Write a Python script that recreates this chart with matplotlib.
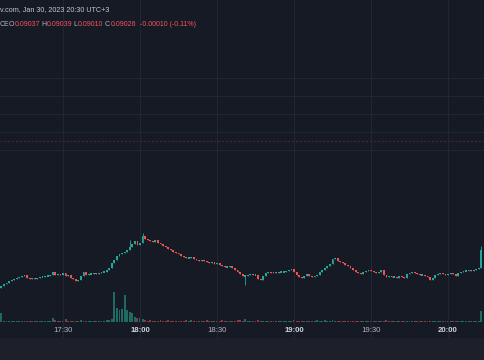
import numpy as np
import matplotlib
matplotlib.use("Agg")
import matplotlib.pyplot as plt
from matplotlib.patches import Rectangle
import matplotlib.transforms as mtransforms
from datetime import datetime, timedelta

# ---------------- data ----------------
start_time = "17:06"
first_open = 0.08994
closes = [
    0.08996, 0.08998, 0.08999, 0.09001, 0.09002, 0.09003, 0.09004, 0.09005,
    0.09006, 0.09007, 0.09004, 0.09003, 0.09004, 0.09003, 0.09004, 0.09005,
    0.09005, 0.09006, 0.09006, 0.09007, 0.09010, 0.09007, 0.09008, 0.09007,
    0.09009, 0.09006, 0.09007, 0.09004, 0.09003, 0.09001, 0.09002, 0.09006,
    0.09010, 0.09007, 0.09008, 0.09008, 0.09009, 0.09008, 0.09009, 0.09010,
    0.09010, 0.09012, 0.09014, 0.09019, 0.09022, 0.09026, 0.09028, 0.09029,
    0.09030, 0.09032, 0.09035, 0.09038, 0.09041, 0.09037, 0.09039, 0.09046,
    0.09043, 0.09042, 0.09041, 0.09040, 0.09042, 0.09039, 0.09038, 0.09036,
    0.09035, 0.09033, 0.09032, 0.09030, 0.09029, 0.09028, 0.09026, 0.09025,
    0.09024, 0.09024, 0.09025, 0.09023, 0.09022, 0.09021, 0.09022, 0.09021,
    0.09020, 0.09019, 0.09020, 0.09018, 0.09019, 0.09017, 0.09016, 0.09015,
    0.09015, 0.09016, 0.09014, 0.09012, 0.09010, 0.09008, 0.09006, 0.09006,
    0.09007, 0.09008, 0.09007, 0.09007, 0.09003, 0.09002, 0.09006, 0.09009,
    0.09010, 0.09009, 0.09010, 0.09009, 0.09010, 0.09010, 0.09010, 0.09011,
    0.09012, 0.09013, 0.09010, 0.09007, 0.09005, 0.09004, 0.09006, 0.09008,
    0.09006, 0.09005, 0.09006, 0.09007, 0.09010, 0.09012, 0.09014, 0.09016,
    0.09018, 0.09023, 0.09024, 0.09021, 0.09020, 0.09019, 0.09017, 0.09016,
    0.09014, 0.09012, 0.09010, 0.09009, 0.09008, 0.09010, 0.09011, 0.09012,
    0.09011, 0.09010, 0.09009, 0.09010, 0.09012, 0.09007, 0.09005, 0.09006,
    0.09005, 0.09005, 0.09004, 0.09006, 0.09005, 0.09004, 0.09008, 0.09009,
    0.09010, 0.09009, 0.09008, 0.09007, 0.09007, 0.09006, 0.09005, 0.09002,
    0.09004, 0.09007, 0.09008, 0.09009, 0.09008, 0.09007, 0.09008, 0.09009,
    0.09008, 0.09006, 0.09009, 0.09010, 0.09011, 0.09011, 0.09012, 0.09011,
    0.09012, 0.09013, 0.09014, 0.09032,
]
extra_highs = {50: 0.09042, 55: 0.09049, 187: 0.09036}
extra_lows = {95: 0.08997}
volumes_k = [
    90, 15, 10, 12, 8, 10, 15, 10, 12, 8,
    15, 10, 8, 12, 10, 8, 10, 12, 15, 10,
    40, 20, 10, 8, 12, 30, 15, 10, 12, 10,
    15, 20, 12, 10, 8, 10, 8, 12, 10, 15,
    12, 20, 25, 30, 300, 140, 120, 130, 270, 120,
    100, 90, 50, 40, 40, 35, 20, 15, 20, 12,
    10, 15, 25, 12, 10, 20, 15, 10, 8, 12,
    10, 15, 20, 12, 25, 10, 8, 15, 10, 12,
    20, 10, 15, 12, 8, 10, 20, 15, 10, 12,
    15, 10, 25, 20, 15, 30, 12, 10, 8, 15,
    20, 15, 10, 12, 8, 10, 15, 10, 8, 12,
    10, 12, 15, 10, 20, 15, 12, 10, 8, 10,
    12, 10, 15, 20, 12, 15, 20, 12, 15, 20,
    15, 12, 10, 8, 12, 10, 15, 10, 12, 8,
    10, 12, 15, 10, 8, 10, 12, 10, 15, 12,
    20, 10, 8, 12, 10, 8, 10, 12, 10, 8,
    10, 12, 8, 10, 12, 10, 15, 12, 10, 8,
    10, 8, 12, 10, 8, 10, 12, 10, 8, 10,
    8, 10, 12, 10, 8, 12, 15, 110,
]
tick_labels = ["17:30", "18:00", "18:30", "19:00", "19:30", "20:00"]
bold_ticks = ["18:00", "19:00", "20:00"]
header_line = "v.com, Jan 30, 2023 20:30 UTC+3"
ohlc_labels = ["O", "H", "L", "C"]
ohlc_values = ["0.09037", "0.09039", "0.09010", "0.09026"]
change_text = "-0.00010 (-0.11%)"
grid_prices = [0.09204, 0.09186, 0.09168, 0.09150, 0.09132]
ref_price = 0.09141

# ---------------- styling ----------------
BG = "#161a25"
BAND = "#1d2029"
UP = "#26a69a"
DOWN = "#ef5350"
VUP = "#1f6b64"
VDOWN = "#8a3a3d"
GRID = "#232734"
TXT = "#b2b5be"
RED_TXT = "#f7525f"
FONT = ["Liberation Sans", "DejaVu Sans"]
plt.rcParams["font.family"] = FONT

W, H = 485, 360
fig = plt.figure(figsize=(W / 100, H / 100), dpi=100, facecolor=BG)

n = len(closes)
closes_a = np.array(closes)
opens_a = np.concatenate([[first_open], closes_a[:-1]])
highs_a = np.maximum(opens_a, closes_a)
lows_a = np.minimum(opens_a, closes_a)
for k, v in extra_highs.items():
    highs_a[k] = v
for k, v in extra_lows.items():
    lows_a[k] = v
idx = np.arange(n)
t0 = datetime.strptime(start_time, "%H:%M")
times = [(t0 + timedelta(minutes=int(i))).strftime("%H:%M") for i in idx]
up = closes_a >= opens_a

xmin, xmax = -0.54, 188.4
ylo, yhi = 0.08922, 0.09282

# background band at bottom
fig.patches.append(Rectangle((0, 0), 1, 22 / H, transform=fig.transFigure,
                             facecolor=BAND, edgecolor="none", zorder=0))

# volume axes
axv = fig.add_axes([0, 38 / H, 1, 100 / H])
axv.set_xlim(xmin, xmax)
axv.set_ylim(0, 1000)
axv.axis("off")
axv.patch.set_alpha(0)
axv.bar(idx, volumes_k, width=0.75, color=np.where(up, VUP, VDOWN), linewidth=0)

# main price axes
ax = fig.add_axes([0, 0, 1, 1])
ax.set_xlim(xmin, xmax)
ax.set_ylim(ylo, yhi)
ax.axis("off")
ax.patch.set_alpha(0)

# grid
for gp in grid_prices:
    ax.axhline(gp, color=GRID, lw=0.7, zorder=1)
ax.axhline(ref_price, color="#4a2a33", lw=0.7, ls=(0, (2, 2)), zorder=1)
tick_pos = [times.index(t) for t in tick_labels]
for tp in tick_pos:
    ax.axvline(tp, ymin=22 / H, ymax=1, color=GRID, lw=0.7, zorder=1)

# candles
body_min = 0.000016
ax.vlines(idx, lows_a, highs_a, colors=np.where(up, UP, DOWN), lw=0.6, zorder=3)
heights = np.maximum(np.abs(closes_a - opens_a), body_min)
bottoms = np.where(np.abs(closes_a - opens_a) < body_min,
                   (opens_a + closes_a) / 2 - body_min / 2,
                   np.minimum(opens_a, closes_a))
ax.bar(idx, heights, bottom=bottoms, width=0.72,
       color=np.where(up, UP, DOWN), linewidth=0, zorder=4)

# time axis labels
trans = mtransforms.blended_transform_factory(ax.transData, fig.transFigure)
for tp, lab in zip(tick_pos, tick_labels):
    is_bold = lab in bold_ticks
    ax.text(tp, (H - 331) / H, lab, transform=trans, ha="center", va="center",
            fontsize=5.6, color="#d1d4dc" if is_bold else TXT,
            fontweight="bold" if is_bold else "normal")

# header
def px(x, y):
    return x / W, (H - y) / H

FS = 5.0
fig.text(*px(0, 9.5), header_line, fontsize=5.2, color="#c3c6ce", va="center", ha="left")
fig.text(*px(0, 25), "CE", fontsize=FS, color=TXT, va="center", ha="left")
label_x = [9.0, 41.5, 73.5, 105.0]
value_x = [15.0, 47.0, 78.0, 110.5]
for lx, vx, lab, val in zip(label_x, value_x, ohlc_labels, ohlc_values):
    fig.text(*px(lx, 25), lab, fontsize=FS, color=TXT, va="center", ha="left")
    fig.text(*px(vx, 25), val, fontsize=FS, color=RED_TXT, va="center", ha="left")
fig.text(*px(140, 25), change_text, fontsize=FS, color=RED_TXT, va="center", ha="left")

fig.savefig("out.png", dpi=100, facecolor=BG)
